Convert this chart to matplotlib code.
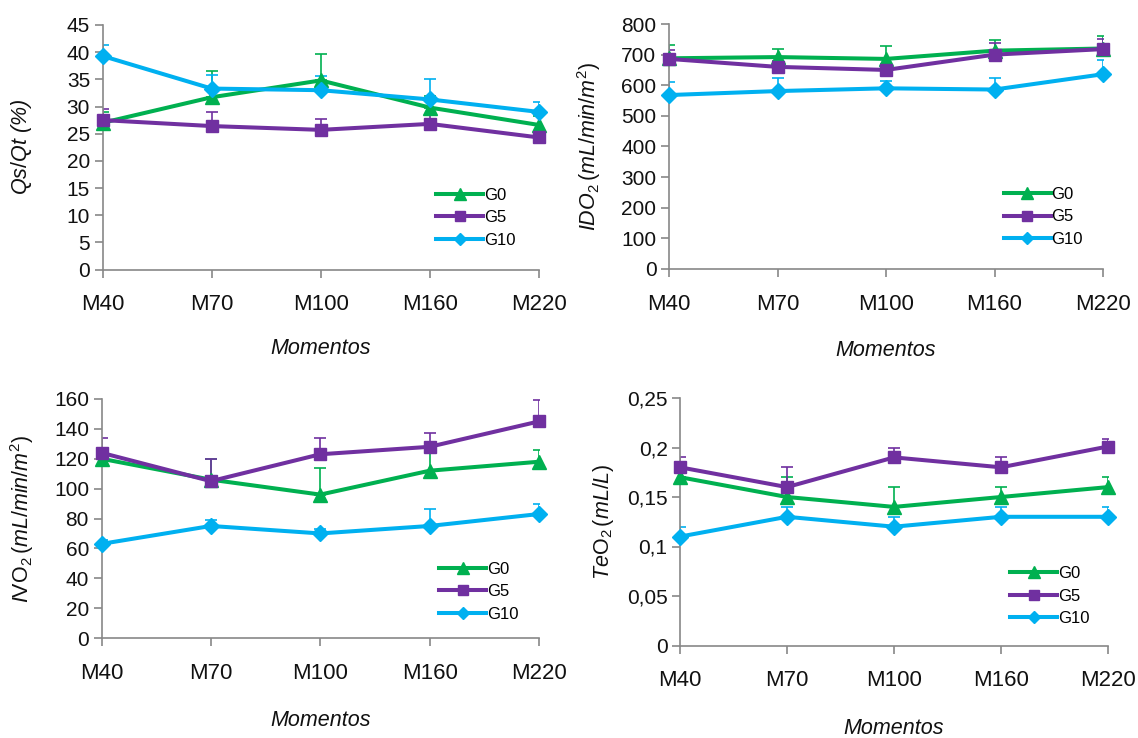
import numpy as np
import matplotlib
matplotlib.use("Agg")
import matplotlib.pyplot as plt

plt.rcParams['font.family'] = ['Liberation Sans', 'DejaVu Sans']
plt.rcParams['mathtext.fontset'] = 'custom'
plt.rcParams['mathtext.rm'] = 'Liberation Sans'
plt.rcParams['mathtext.it'] = 'Liberation Sans:italic'

moments = ["M40", "M70", "M100", "M160", "M220"]
groups = ["G0", "G5", "G10"]

# Qs/Qt (%)
qs_g0 = [27.0, 31.7, 34.8, 29.8, 26.6]
qs_g5 = [27.5, 26.4, 25.7, 26.8, 24.3]
qs_g10 = [39.3, 33.3, 33.0, 31.3, 29.0]
qs_g0_top = [29.0, 36.5, 39.6, 32.0, 28.2]
qs_g5_top = [29.5, 29.0, 27.7, 28.4, 25.5]
qs_g10_top = [41.4, 35.8, 35.7, 35.0, 30.9]

# IDO2 (mL/min/m2)
ido_g0 = [688, 692, 686, 713, 720]
ido_g5 = [686, 660, 650, 700, 718]
ido_g10 = [568, 581, 590, 586, 636]
ido_g0_top = [732, 718, 727, 748, 762]
ido_g5_top = [714, 680, 670, 738, 752]
ido_g10_top = [610, 623, 614, 623, 682]

# IVO2 (mL/min/m2)
ivo_g0 = [120, 106, 96, 112, 118]
ivo_g5 = [124, 105, 123, 128, 145]
ivo_g10 = [63, 75, 70, 75, 83]
ivo_g0_top = [126, 120, 114, 128, 126]
ivo_g5_top = [134, 120, 134, 137, 159]
ivo_g10_top = [65.5, 78.7, 72.7, 86.4, 90]

# TeO2 (mL/L)
teo_g0 = [0.17, 0.15, 0.14, 0.15, 0.16]
teo_g5 = [0.18, 0.16, 0.19, 0.18, 0.201]
teo_g10 = [0.11, 0.13, 0.12, 0.13, 0.13]
teo_g0_top = [0.18, 0.17, 0.16, 0.16, 0.17]
teo_g5_top = [0.19, 0.18, 0.20, 0.19, 0.209]
teo_g10_top = [0.12, 0.14, 0.13, 0.14, 0.14]
teo_ticklabels = ["0", "0,05", "0,1", "0,15", "0,2", "0,25"]

colors = {"G0": "#00B050", "G5": "#7030A0", "G10": "#00B0F0"}
markers = {"G0": "^", "G5": "s", "G10": "D"}
msizes = {"G0": 10, "G5": 9, "G10": 8}

fig = plt.figure(figsize=(11.38, 7.38), dpi=100)
W, H = 1138, 738

def make_ax(l, r, t, b):
    return fig.add_axes([l / W, 1 - b / H, (r - l) / W, (b - t) / H])

panels = [
    dict(box=(102.5, 539, 25, 269.5), ylim=(0, 45), yticks=np.arange(0, 46, 5), ylabels=None,
         data=(qs_g0, qs_g5, qs_g10), tops=(qs_g0_top, qs_g5_top, qs_g10_top),
         ylabel=r"$Qs/Qt$ (%)", ylab_x=22, xlab_y=348, leg=(0.765, 0.335)),
    dict(box=(669, 1103, 24, 269), ylim=(0, 800), yticks=np.arange(0, 801, 100), ylabels=None,
         data=(ido_g0, ido_g5, ido_g10), tops=(ido_g0_top, ido_g5_top, ido_g10_top),
         ylabel=r"$IDO_{\mathrm{2}}\,(mL/min/m^{\mathrm{2}})$", ylab_x=589, xlab_y=350, leg=(0.772, 0.335)),
    dict(box=(101.5, 539, 399, 638), ylim=(0, 160), yticks=np.arange(0, 161, 20), ylabels=None,
         data=(ivo_g0, ivo_g5, ivo_g10), tops=(ivo_g0_top, ivo_g5_top, ivo_g10_top),
         ylabel=r"$I\mathrm{VO}_{\mathrm{2}}\,(mL/min/m^{\mathrm{2}})$", ylab_x=22, xlab_y=720, leg=(0.772, 0.32)),
    dict(box=(680, 1108, 398, 645.5), ylim=(0, 0.25), yticks=np.arange(0, 0.2501, 0.05), ylabels=teo_ticklabels,
         data=(teo_g0, teo_g5, teo_g10), tops=(teo_g0_top, teo_g5_top, teo_g10_top),
         ylabel=r"$Te\mathrm{O}_{\mathrm{2}}\,(mL/L)$", ylab_x=604, xlab_y=728, leg=(0.772, 0.32)),
]

x = np.arange(len(moments))
for p in panels:
    l, r, t, b = p["box"]
    ax = make_ax(l, r, t, b)
    handles = []
    for g, vals, tops in zip(groups, p["data"], p["tops"]):
        vals = np.array(vals, float)
        err = np.array(tops, float) - vals
        ax.errorbar(x, vals, yerr=[np.zeros_like(err), err], fmt="none",
                    ecolor=colors[g], elinewidth=1.2, capsize=4, capthick=1.2, zorder=2)
        h, = ax.plot(x, vals, color=colors[g], lw=2.9, marker=markers[g],
                     ms=msizes[g], mec=colors[g], mfc=colors[g], zorder=3, label=g,
                     clip_on=False)
        handles.append(h)
    ax.set_xlim(0, 4)
    ax.set_ylim(*p["ylim"])
    ax.set_yticks(p["yticks"])
    if p["ylabels"] is not None:
        ax.set_yticklabels(p["ylabels"])
    ax.set_xticks(x)
    ax.set_xticklabels(moments)
    for s in ["top", "right"]:
        ax.spines[s].set_visible(False)
    for s in ["left", "bottom"]:
        ax.spines[s].set_color("#888888")
        ax.spines[s].set_linewidth(1.2)
    ax.tick_params(axis="both", colors="#888888", labelcolor="#111111", direction="out",
                   length=6, width=1.2)
    ax.tick_params(axis="x", labelsize=16, pad=12)
    ax.tick_params(axis="y", labelsize=15, pad=3)
    ax.legend(handles=handles, loc="upper left", bbox_to_anchor=p["leg"], frameon=False,
              fontsize=12, handlelength=2.8, handletextpad=0.05, labelspacing=0.45,
              borderpad=0, borderaxespad=0, markerscale=0.8)
    fig.text(p["ylab_x"] / W, 1 - ((t + b) / 2) / H, p["ylabel"], rotation=90,
             ha="center", va="center", fontsize=15.5, style="italic", color="#111111")
    fig.text(((l + r) / 2) / W, 1 - p["xlab_y"] / H, "Momentos", ha="center", va="center",
             fontsize=15.5, style="italic", color="#111111")

fig.savefig("out.png", dpi=100)
